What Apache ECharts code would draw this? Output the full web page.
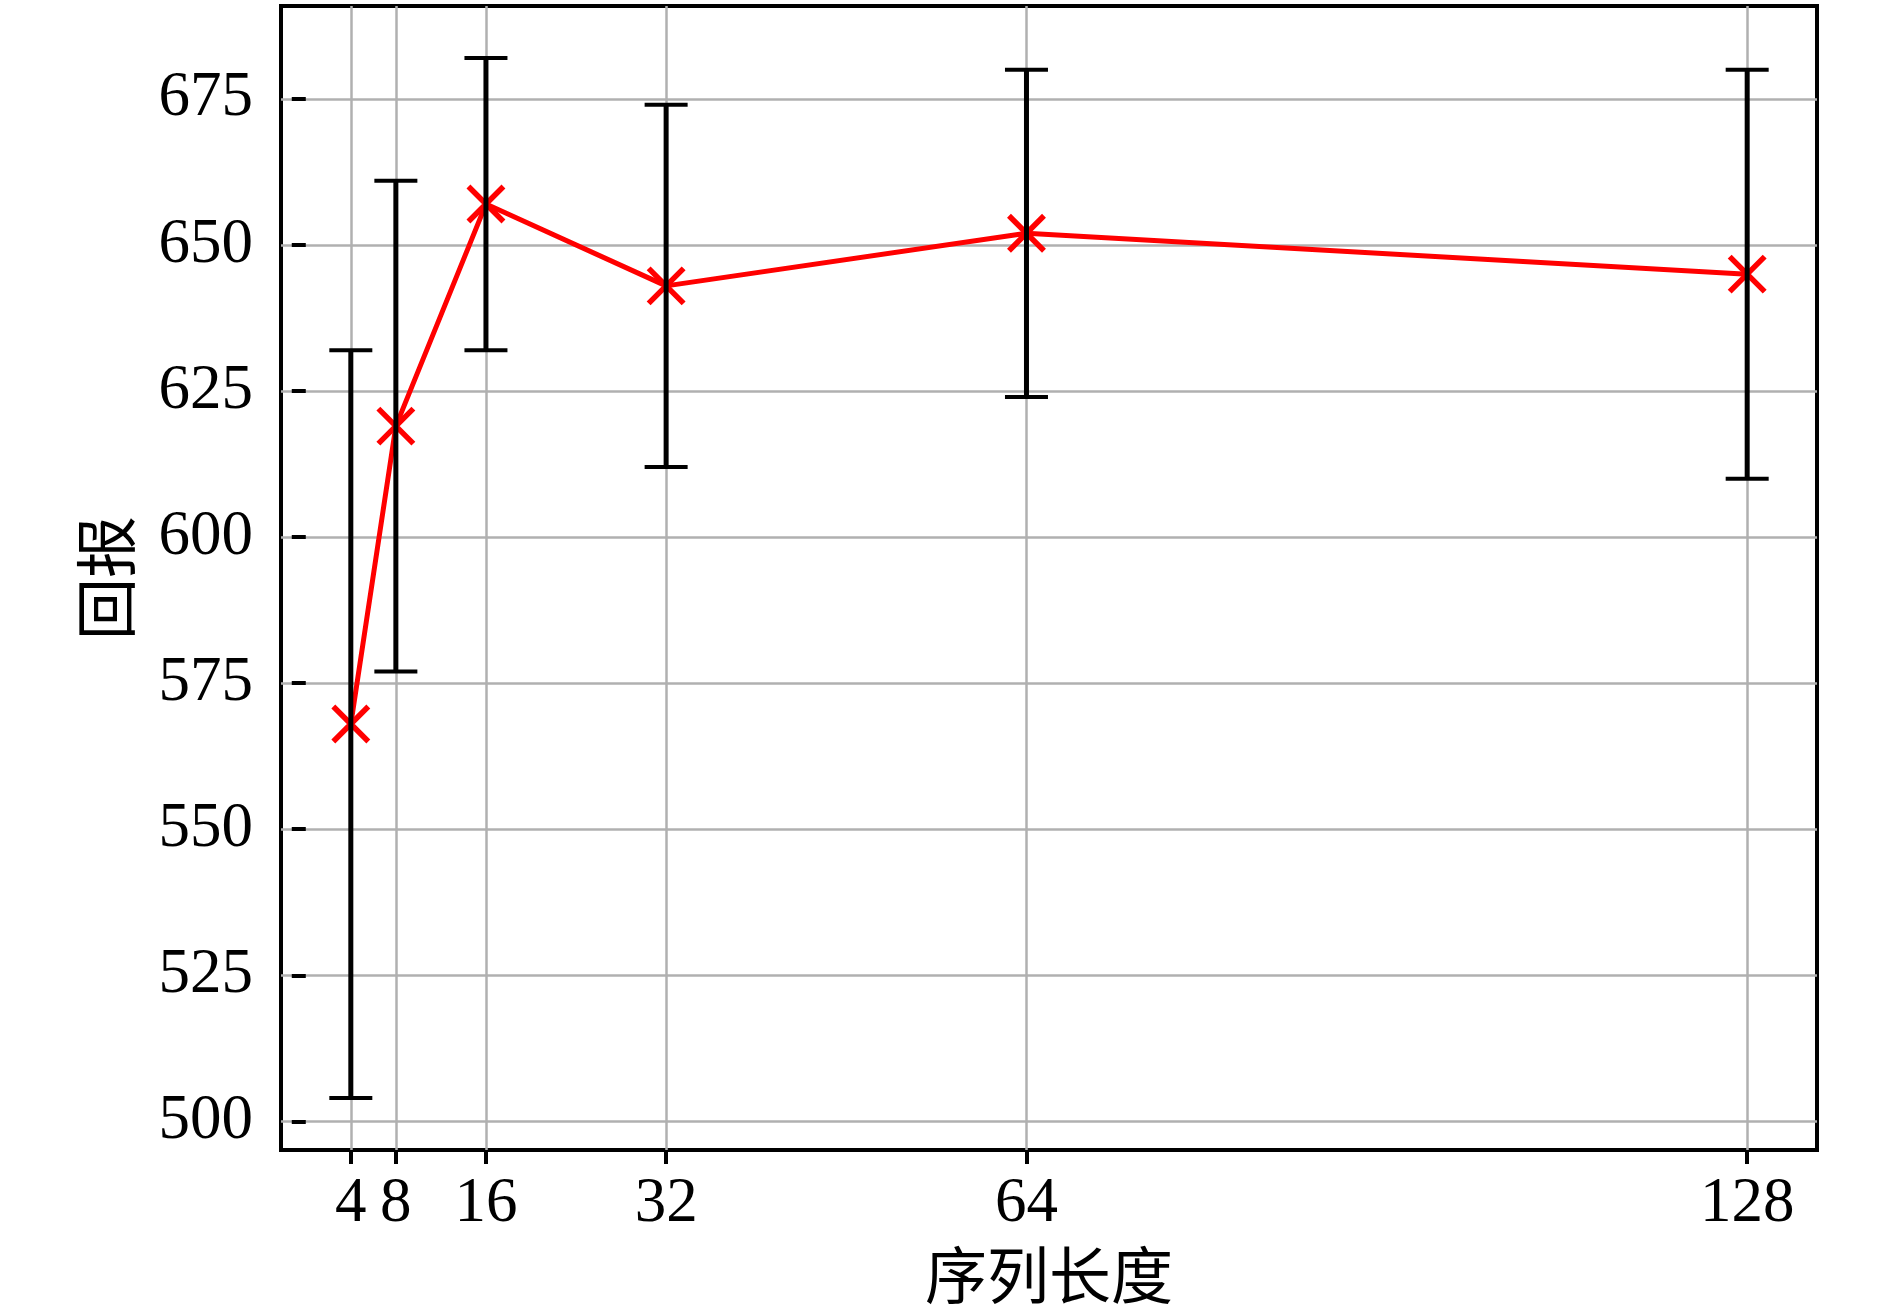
<!DOCTYPE html>
<html><head><meta charset="utf-8">
<script src="https://cdn.jsdelivr.net/npm/echarts@6/dist/echarts.min.js"></script>
<style>html,body{margin:0;padding:0;background:#fff}#c{width:1890px;height:1313px}</style>
</head><body><div id="c"></div>
<script>
const seqLengths = [4, 8, 16, 32, 64, 128];
const meanReturn = [568, 619, 657, 643, 652, 645];
const errLow = [504, 577, 632, 612, 624, 610];
const errHigh = [632, 661, 682, 674, 680, 680];
const yTicks = [500, 525, 550, 575, 600, 625, 650, 675];
const xTicks = [4, 8, 16, 32, 64, 128];
const xName = '序列长度';
const yName = '回报';

const chart = echarts.init(document.getElementById('c'), null, {renderer: 'canvas'});
const tickFont = {fontFamily: 'Liberation Serif', fontSize: 63, color: '#000'};
const nameFont = {fontFamily: 'Noto Sans CJK SC', fontSize: 62, color: '#000'};

chart.setOption({
  animation: false,
  backgroundColor: '#fff',
  grid: {left: 281, right: 73, top: 6, bottom: 163, show: true, borderColor: '#000', borderWidth: 4, backgroundColor: 'transparent', containLabel: false},
  xAxis: {
    type: 'value', min: -2.2, max: 134.2,
    name: xName, nameLocation: 'middle', nameGap: 94, nameTextStyle: nameFont,
    axisLine: {show: false},
    axisTick: {show: true, length: 14, lineStyle: {color: '#000', width: 4}, customValues: xTicks},
    axisLabel: Object.assign({margin: 23, customValues: xTicks, formatter: v => String(v)}, tickFont),
    splitLine: {show: true, lineStyle: {color: '#b0b0b0', width: 2.5}}
  },
  yAxis: {
    type: 'value', min: 495.1, max: 690.9,
    name: yName, nameLocation: 'middle', nameGap: 144, nameTextStyle: nameFont,
    axisLine: {show: false},
    axisTick: {show: true, length: 14, lineStyle: {color: '#000', width: 4}, customValues: yTicks},
    axisLabel: Object.assign({margin: 28, customValues: yTicks, formatter: v => String(v)}, tickFont),
    splitLine: {show: true, lineStyle: {color: '#b0b0b0', width: 2.5}}
  },
  series: [
    {
      type: 'line',
      data: seqLengths.map((x, i) => [x, meanReturn[i]]),
      symbol: 'path://M0,0L10,10M10,0L0,10',
      symbolSize: 35,
      itemStyle: {color: '#ff0000', borderColor: '#ff0000', borderWidth: 5.5},
      lineStyle: {color: '#ff0000', width: 5},
      z: 2,
      emphasis: {disabled: true}
    },
    {
      type: 'custom',
      data: seqLengths.map((x, i) => [x, errLow[i], errHigh[i]]),
      encode: {x: 0, y: [1, 2]},
      z: 3,
      renderItem: function (params, api) {
        const x = api.value(0), lo = api.value(1), hi = api.value(2);
        const pLo = api.coord([x, lo]), pHi = api.coord([x, hi]);
        const cap = 21.5;
        return {type: 'group', children: [
          {type: 'line', shape: {x1: pLo[0], y1: pLo[1], x2: pHi[0], y2: pHi[1]}, style: {stroke: '#000', lineWidth: 5}},
          {type: 'line', shape: {x1: pLo[0] - cap, y1: pLo[1], x2: pLo[0] + cap, y2: pLo[1]}, style: {stroke: '#000', lineWidth: 4}},
          {type: 'line', shape: {x1: pHi[0] - cap, y1: pHi[1], x2: pHi[0] + cap, y2: pHi[1]}, style: {stroke: '#000', lineWidth: 4}}
        ]};
      }
    }
  ]
});
</script>
</body></html>
